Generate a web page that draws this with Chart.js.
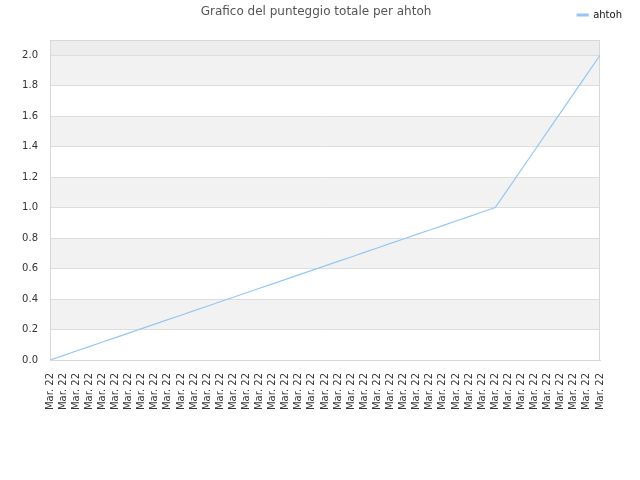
<!DOCTYPE html>
<html>
<head>
<meta charset="utf-8">
<script src="https://cdn.jsdelivr.net/npm/chart.js@4/dist/chart.umd.min.js"></script>
<style>
  html, body { margin: 0; padding: 0; background: #fff; }
  #wrap { width: 640px; height: 480px; }
</style>
</head>
<body>
<div id="wrap"><canvas id="chart"></canvas></div>
<script>
const TITLE = "Grafico del punteggio totale per ahtoh";
const SERIES = "ahtoh";

// one label per day, all shown as "Mar. 22"
const labels = [
  "Mar. 22", "Mar. 22", "Mar. 22", "Mar. 22", "Mar. 22", "Mar. 22", "Mar. 22", "Mar. 22", "Mar. 22", "Mar. 22",
  "Mar. 22", "Mar. 22", "Mar. 22", "Mar. 22", "Mar. 22", "Mar. 22", "Mar. 22", "Mar. 22", "Mar. 22", "Mar. 22",
  "Mar. 22", "Mar. 22", "Mar. 22", "Mar. 22", "Mar. 22", "Mar. 22", "Mar. 22", "Mar. 22", "Mar. 22", "Mar. 22",
  "Mar. 22", "Mar. 22", "Mar. 22", "Mar. 22", "Mar. 22", "Mar. 22", "Mar. 22", "Mar. 22", "Mar. 22", "Mar. 22",
  "Mar. 22", "Mar. 22", "Mar. 22"
];

const scores = [
  0, 0.029, 0.059, 0.088, 0.118, 0.147, 0.176, 0.206, 0.235, 0.265,
  0.294, 0.324, 0.353, 0.382, 0.412, 0.441, 0.471, 0.5, 0.529, 0.559,
  0.588, 0.618, 0.647, 0.676, 0.706, 0.735, 0.765, 0.794, 0.824, 0.853,
  0.882, 0.912, 0.941, 0.971, 1.0, 1.125, 1.25, 1.375, 1.5, 1.625,
  1.75, 1.875, 2.0
];

const yMin = 0;
const yMax = 2.1;
const yStep = 0.2;

// shaded stripes behind the plot
const grayBands = [[0.2, 0.4], [0.6, 0.8], [1.0, 1.2], [1.4, 1.6], [1.8, 2.0]];
const topBand = [2.0, 2.1];

const bandPlugin = {
  id: "bands",
  beforeDraw(chart) {
    const ctx = chart.ctx;
    const a = chart.chartArea;
    const y = chart.scales.y;
    ctx.save();
    ctx.fillStyle = "#f2f2f2";
    grayBands.forEach(function (b) {
      const y1 = y.getPixelForValue(b[1]);
      const y0 = y.getPixelForValue(b[0]);
      ctx.fillRect(a.left, y1, a.right - a.left, y0 - y1);
    });
    ctx.fillStyle = "#ededed";
    const t1 = y.getPixelForValue(topBand[1]);
    const t0 = y.getPixelForValue(topBand[0]);
    ctx.fillRect(a.left, t1, a.right - a.left, t0 - t1);
    ctx.restore();
  },
  beforeDatasetsDraw(chart) {
    const ctx = chart.ctx;
    const a = chart.chartArea;
    ctx.save();
    ctx.strokeStyle = "#d8d8d8";
    ctx.lineWidth = 1;
    ctx.strokeRect(a.left + 0.5, a.top + 0.5, a.right - a.left - 1, a.bottom - a.top);
    ctx.restore();
  }
};

new Chart(document.getElementById("chart"), {
  type: "line",
  data: {
    labels: labels,
    datasets: [
      {
        label: SERIES,
        data: scores,
        borderColor: "#96c6f6",
        backgroundColor: "#96c6f6",
        borderWidth: 1.2,
        pointRadius: 0,
        tension: 0,
        fill: false
      }
    ]
  },
  options: {
    responsive: true,
    maintainAspectRatio: false,
    animation: false,
    layout: { padding: { top: 0, right: 8, bottom: 0, left: 0 } },
    plugins: {
      title: {
        display: true,
        text: TITLE,
        color: "#555",
        font: { family: "DejaVu Sans", size: 12, weight: "normal" },
        padding: { top: 5, bottom: -19.4 }
      },
      legend: {
        display: true,
        position: "top",
        align: "end",
        labels: {
          color: "#111",
          font: { family: "DejaVu Sans", size: 10 },
          boxWidth: 11,
          boxHeight: 2,
          padding: 10
        }
      },
      tooltip: { enabled: false }
    },
    scales: {
      x: {
        offset: false,
        grid: { display: false, drawTicks: false },
        border: { display: true, color: "#d8d8d8" },
        ticks: {
          autoSkip: false,
          minRotation: 90,
          maxRotation: 90,
          padding: 13,
          color: "#333",
          font: { family: "DejaVu Sans", size: 10 }
        },
        afterFit: function (scale) { scale.height = 120; }
      },
      x2: {
        position: "top",
        display: true,
        grid: { display: false, drawTicks: false },
        border: { display: false },
        ticks: { display: false },
        afterFit: function (scale) { scale.height = 10; }
      },
      y: {
        min: yMin,
        max: yMax,
        grid: { color: "#dddddd", drawTicks: false },
        border: { display: true, color: "#d8d8d8" },
        ticks: {
          stepSize: yStep,
          padding: 12,
          color: "#333",
          font: { family: "DejaVu Sans", size: 10 },
          callback: function (v) { return Number(v).toFixed(1); }
        },
        afterBuildTicks: function (scale) {
          scale.ticks = scale.ticks.filter(function (t) { return t.value <= 2.0 + 1e-9; });
        },
        afterFit: function (scale) { scale.width = 50; }
      },
      y2: {
        position: "right",
        display: true,
        grid: { display: false, drawTicks: false },
        border: { display: false },
        ticks: { display: false },
        afterFit: function (scale) { scale.width = 32; }
      }
    }
  },
  plugins: [bandPlugin]
});
</script>
</body>
</html>
